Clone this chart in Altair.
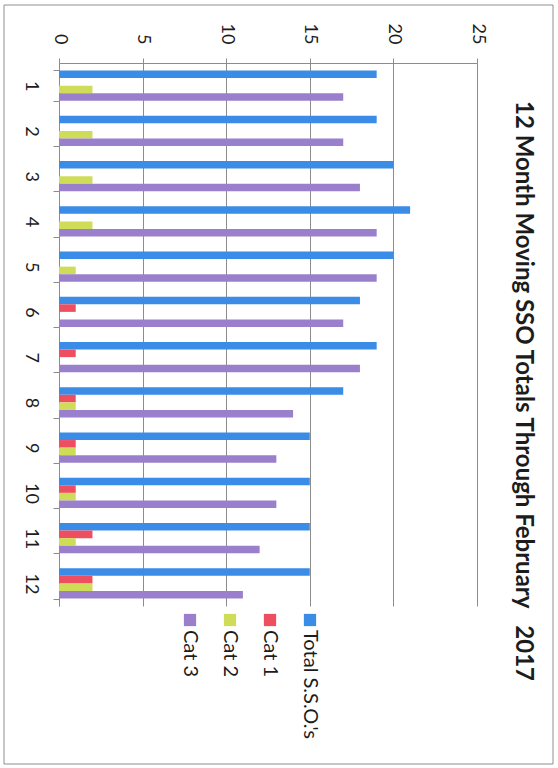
import altair as alt
import pandas as pd

# Monthly categories and the four series plotted for each
months = [str(i) for i in range(1, 13)]
series = ["Total S.S.O.'s", "Cat 1", "Cat 2", "Cat 3"]
total = [19, 19, 20, 21, 20, 18, 19, 17, 15, 15, 15, 15]
cat1 = [0, 0, 0, 0, 0, 1, 1, 1, 1, 1, 2, 2]
cat2 = [2, 2, 2, 2, 1, 0, 0, 1, 1, 1, 1, 2]
cat3 = [17, 17, 18, 19, 19, 17, 18, 14, 13, 13, 12, 11]
value_ticks = [0, 5, 10, 15, 20, 25]
colors = ["#3b8ce6", "#ee4f60", "#cfdc58", "#9a80cc"]
title_text = "12 Month Moving SSO Totals Through February\u00a0\u00a0 2017"

rows = []
for i, m in enumerate(months):
    for s, vals in zip(series, [total, cat1, cat2, cat3]):
        rows.append({"month": m, "series": s, "value": vals[i]})
df = pd.DataFrame(rows)

W, H = 418, 543
FONT = "Lato"
GRID = "#8c8c8c"
INK = "#1c1c1c"

color_scale = alt.Scale(domain=series, range=colors)

bars = alt.Chart(df).mark_bar().encode(
    x=alt.X(
        "value:Q",
        scale=alt.Scale(domain=[0, 25], nice=False),
        axis=alt.Axis(
            orient="top", values=value_ticks, title=None,
            labelAngle=90, labelAlign="right", labelBaseline="middle",
            labelPadding=14, tickSize=5, grid=True,
            gridColor=GRID, domainColor=GRID, tickColor=GRID,
            labelFont=FONT, labelFontSize=18, labelColor=INK,
        ),
    ),
    y=alt.Y(
        "month:N", sort=months,
        scale=alt.Scale(paddingInner=0.33, paddingOuter=0.165),
        axis=alt.Axis(
            title=None, labelAngle=90, labelAlign="center",
            labelBaseline="middle", labelPadding=23, tickSize=6,
            tickBand="extent", domainColor=GRID, tickColor=GRID,
            labelFont=FONT, labelFontSize=18, labelColor=INK,
        ),
    ),
    yOffset=alt.YOffset("series:N", sort=series,
                        scale=alt.Scale(paddingInner=0, paddingOuter=0)),
    color=alt.Color("series:N", scale=color_scale, legend=None),
)

# Hand-built legend: swatches in a row under the plot, labels turned 90 degrees
leg_df = pd.DataFrame({"series": series, "idx": list(range(len(series)))})
leg_base = alt.Chart(leg_df).transform_calculate(lx="251 - 40 * datum.idx")

leg_swatch = leg_base.mark_square(size=150, opacity=1).encode(
    x=alt.X("lx:Q", scale=None, axis=None),
    y=alt.value(H + 14),
    color=alt.Color("series:N", scale=color_scale, legend=None),
)
leg_text = leg_base.mark_text(
    angle=90, align="left", baseline="middle",
    font=FONT, fontSize=20, color=INK,
).encode(
    x=alt.X("lx:Q", scale=None, axis=None),
    y=alt.value(H + 24),
    text="series:N",
)

title = alt.Chart(pd.DataFrame({"t": [title_text]})).mark_text(
    angle=90, align="center", baseline="middle",
    font=FONT, fontSize=24, fontWeight="bold", color=INK,
).encode(x=alt.value(464), y=alt.value(328), text="t:N")

# Frame around the whole figure
frame = alt.Chart(pd.DataFrame({"a": [0]})).mark_rect(
    fillOpacity=0, stroke="#8f8f8f", strokeWidth=1,
).encode(x=alt.value(-55), x2=alt.value(494), y=alt.value(-58), y2=alt.value(701))

chart = alt.layer(bars, leg_swatch, leg_text, title, frame).properties(
    width=W, height=H,
    padding={"left": 3, "top": 4, "right": 0, "bottom": 0},
    background="white",
).configure_view(stroke=None)

chart.save("out.html", embed_options={"renderer": "svg", "actions": False})
